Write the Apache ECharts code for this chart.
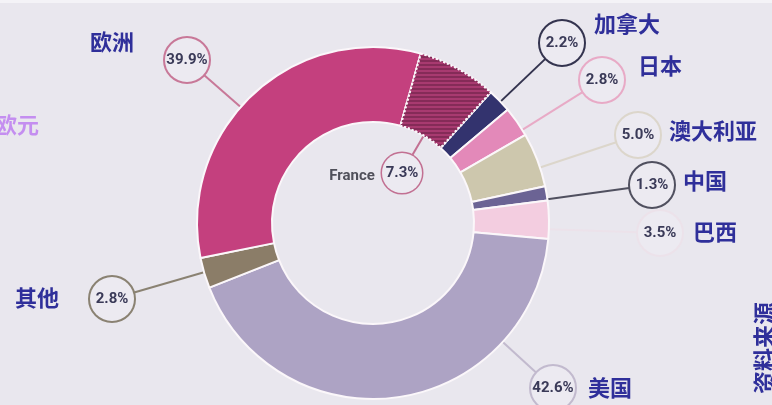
<!DOCTYPE html>
<html lang="zh">
<head>
<meta charset="UTF-8">
<title>分布</title>
<script src="https://cdn.jsdelivr.net/npm/echarts@6/dist/echarts.min.js"></script>
<style>
  html, body { margin: 0; padding: 0; background: #e9e7ee; }
  #main { width: 772px; height: 405px; }
</style>
</head>
<body>
<div id="main"></div>
<script>
// 数据（百分比）
var names = ['加拿大', '日本', '澳大利亚', '中国', '巴西', '美国', '其他', '欧洲', 'France'];
var shares = [2.2, 2.8, 5.0, 1.3, 3.5, 42.6, 2.8, 39.9, 7.3];   // 欧洲 39.9 已包含 France 7.3
var europeIdx = 7, franceIdx = 8;

// 颜色
var sliceColors = ['#33336e', '#e389b9', '#cdc7ad', '#6b6394', '#f3cde0', '#ada3c4', '#8b7d68', '#c4407e', '#a83a70'];
var ringColors  = ['#34344f', '#e8aac6', '#dcd6cb', '#50505f', '#ece2ea', '#c2bace', '#8a8272', '#c87898', '#c27092'];

// 版式
var cx = 373, cy = 223, rIn = 101, rOut = 176;
var bubblePos = [[562, 43], [602, 80], [638, 135], [652, 185], [660, 233], [553, 388], [112, 299], [187, 60], [402, 173]];
var namePos   = [[627, 24], [660, 66], [713, 131], [705, 181], [715, 232], [610, 388], [37, 298], [112, 42], [352, 176]];

var chart = echarts.init(document.getElementById('main'));

var pieData = names.map(function (n, i) {
    var v = shares[i];
    if (i === europeIdx) v = +(shares[europeIdx] - shares[franceIdx]).toFixed(1);
    var item = {
        name: n,
        value: v,
        itemStyle: { color: sliceColors[i] },
        label: { borderColor: ringColors[i] },
        labelLine: { lineStyle: { color: ringColors[i] } }
    };
    if (i === franceIdx) {
        item.itemStyle.borderType = [2, 2];
        item.itemStyle.decal = {
            symbol: 'rect',
            dashArrayX: [1, 0],
            dashArrayY: [2, 2],
            rotation: 0,
            color: 'rgba(90,25,60,0.45)'
        };
        item.label.width = 40;
        item.label.height = 40;
        item.label.lineHeight = 40;
        item.label.borderRadius = 21;
        item.label.borderWidth = 1.5;
    }
    return item;
});

var nameTexts = names.map(function (n, i) {
    var isFr = i === franceIdx;
    return {
        type: 'text',
        x: namePos[i][0],
        y: namePos[i][1],
        style: {
            text: n,
            fill: isFr ? '#50505a' : '#2f2f9a',
            font: isFr ? 'bold 15px Roboto, sans-serif'
                       : 'bold 22px "Noto Sans CJK SC", sans-serif',
            textAlign: 'center',
            textVerticalAlign: 'middle'
        }
    };
});

chart.setOption({
    backgroundColor: '#e9e7ee',
    animation: false,
    graphic: [
        { type: 'rect', shape: { x: 0, y: 0, width: 772, height: 3 }, style: { fill: '#f4f3f7' } },
        {
            type: 'text', x: 17, y: 125,
            style: { text: '欧元', fill: '#c48ef0', font: 'bold 22px "Noto Sans CJK SC", sans-serif',
                     textAlign: 'center', textVerticalAlign: 'middle' }
        },
        {
            type: 'text', x: 764, y: 348, rotation: Math.PI / 2,
            style: { text: '资料来源', fill: '#2f2f9a', font: 'bold 23px "Noto Sans CJK SC", sans-serif',
                     textAlign: 'center', textVerticalAlign: 'middle' }
        }
    ].concat(nameTexts),
    series: [{
        type: 'pie',
        center: [cx, cy],
        radius: [rIn, rOut],
        startAngle: 48,
        avoidLabelOverlap: false,
        itemStyle: { borderColor: '#fbf7fa', borderWidth: 2 },
        label: {
            show: true,
            formatter: function (p) { return shares[p.dataIndex].toFixed(1) + '%'; },
            width: 44,
            height: 44,
            lineHeight: 44,
            overflow: 'none',
            align: 'center',
            verticalAlign: 'middle',
            borderRadius: 24,
            borderWidth: 2,
            backgroundColor: '#eceaf1',
            color: '#3a3a58',
            fontSize: 15,
            fontWeight: 'bold',
            fontFamily: 'Roboto, sans-serif'
        },
        labelLine: { show: true, length: 8, length2: 8, lineStyle: { width: 2 } },
        labelLayout: function (params) {
            var i = params.dataIndex;
            var p = bubblePos[i];
            var dx = p[0] - cx, dy = p[1] - cy;
            var d = Math.sqrt(dx * dx + dy * dy);
            var ux = dx / d, uy = dy / d;
            // 引线：从环边缘指向气泡
            var inside = i === franceIdx;
            var ringR = inside ? rIn : rOut;
            var br = inside ? 21 : 23;
            var from = [cx + ux * ringR, cy + uy * ringR];
            var to = inside ? [p[0] + ux * br, p[1] + uy * br] : [p[0] - ux * br, p[1] - uy * br];
            return {
                x: p[0], y: p[1], align: 'center', verticalAlign: 'middle',
                labelLinePoints: [from, to]
            };
        },
        emphasis: { disabled: true },
        data: pieData
    }]
});
</script>
</body>
</html>
